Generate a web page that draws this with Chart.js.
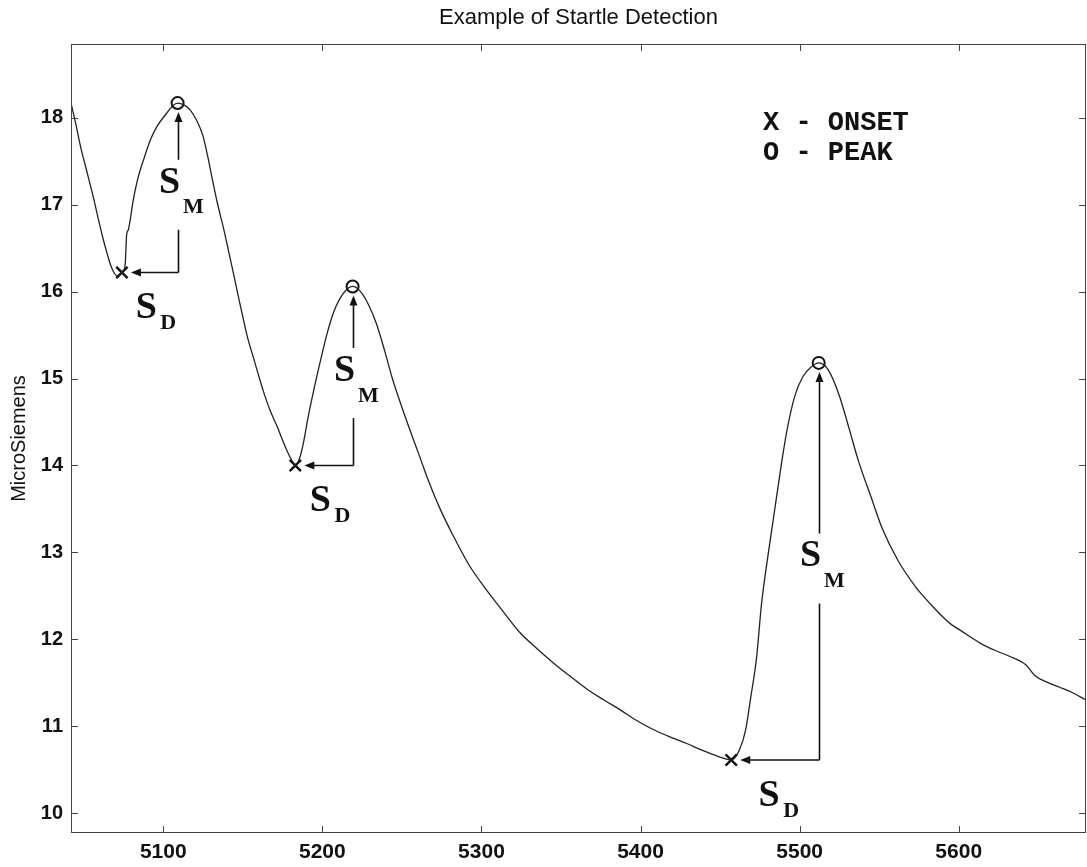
<!DOCTYPE html>
<html lang="en">
<head>
    <meta charset="utf-8">
    <style>
        body { margin: 0; background: #fff; }
        #wrap { width: 1087px; height: 867px; }
    </style>
</head>
<body>
    <div id="wrap">
        <canvas id="myChart" width="1087" height="867"></canvas>
    </div>

    <script src="https://cdn.jsdelivr.net/npm/chart.js@4.4.0/dist/chart.umd.min.js"></script>

    <script>
        // skin conductance trace
        var sampleIdx = [
            5042, 5045, 5048, 5052, 5056, 5059, 5062, 5065, 5067, 5069, 5071, 5074, 5076, 5077, 5078,
            5081, 5084, 5088, 5092, 5096, 5102, 5106, 5109, 5113, 5117, 5121, 5125, 5128, 5131, 5134,
            5138, 5141, 5144, 5147, 5150, 5153, 5157, 5160, 5163, 5167, 5172, 5175, 5178, 5181, 5183,
            5186, 5188, 5191, 5195, 5199, 5203, 5207, 5211, 5215, 5219, 5224, 5229, 5234, 5239, 5244,
            5250, 5255, 5261, 5267, 5274, 5282, 5292, 5303, 5314, 5324, 5335, 5345, 5356, 5366, 5377,
            5387, 5397, 5407, 5418, 5429, 5439, 5449, 5457, 5462, 5466, 5469, 5473, 5476, 5480, 5484,
            5488, 5492, 5497, 5502, 5507, 5512, 5518, 5525, 5531, 5537, 5545, 5552, 5562, 5573, 5579,
            5584, 5594, 5602, 5614, 5623, 5635, 5642, 5648, 5655, 5663, 5671, 5680
        ];
        var conductance = [
            18.17, 17.93, 17.67, 17.38, 17.09, 16.85, 16.62, 16.42, 16.30, 16.22, 16.18, 16.22, 16.30, 16.66, 16.71,
            17.04, 17.30, 17.54, 17.75, 17.90, 18.05, 18.14, 18.17, 18.15, 18.09, 17.97, 17.79, 17.55, 17.28, 17.02,
            16.72, 16.47, 16.22, 15.96, 15.71, 15.47, 15.22, 15.03, 14.85, 14.64, 14.43, 14.29, 14.16, 14.05, 14.00,
            14.10, 14.25, 14.55, 14.90, 15.22, 15.52, 15.76, 15.92, 16.02, 16.06, 16.00, 15.85, 15.63, 15.33, 15.00,
            14.67, 14.41, 14.11, 13.81, 13.50, 13.20, 12.86, 12.57, 12.31, 12.08, 11.89, 11.73, 11.57, 11.43, 11.30,
            11.19, 11.07, 10.97, 10.88, 10.80, 10.72, 10.65, 10.61, 10.72, 10.95, 11.30, 11.80, 12.40, 12.95, 13.45,
            13.95, 14.40, 14.80, 15.02, 15.13, 15.18, 15.10, 14.80, 14.43, 14.05, 13.63, 13.27, 12.90, 12.60, 12.47,
            12.37, 12.19, 12.09, 11.95, 11.87, 11.78, 11.71, 11.58, 11.51, 11.45, 11.39, 11.30
        ];

        // detected startles
        var onsetX = [5074, 5183, 5457];
        var onsetY = [16.22, 14.00, 10.61];
        var peakX = [5109, 5219, 5512];
        var peakY = [18.17, 16.06, 15.18];

        var xTicks = [5100, 5200, 5300, 5400, 5500, 5600];
        var yTicks = [10, 11, 12, 13, 14, 15, 16, 17, 18];
        var legendLines = ['X - ONSET', 'O - PEAK'];

        function pairs(xs, ys) {
            var out = [];
            for (var i = 0; i < xs.length; i++) {
                out.push({ x: xs[i], y: ys[i] });
            }
            return out;
        }

        // box with inward ticks on all four sides, matlab style
        var boxPlugin = {
            id: 'box',
            afterDraw: function (chart) {
                var ctx = chart.ctx, a = chart.chartArea;
                var xs = chart.scales.x, ys = chart.scales.y;
                ctx.save();
                ctx.strokeStyle = '#444';
                ctx.lineWidth = 1;
                ctx.strokeRect(a.left + 0.5, a.top + 0.5, a.right - a.left - 1, a.bottom - a.top - 1);
                ctx.beginPath();
                xTicks.forEach(function (v) {
                    var px = Math.round(xs.getPixelForValue(v)) + 0.5;
                    ctx.moveTo(px, a.bottom); ctx.lineTo(px, a.bottom - 7);
                    ctx.moveTo(px, a.top); ctx.lineTo(px, a.top + 7);
                });
                yTicks.forEach(function (v) {
                    var py = Math.round(ys.getPixelForValue(v)) + 0.5;
                    ctx.moveTo(a.left, py); ctx.lineTo(a.left + 7, py);
                    ctx.moveTo(a.right, py); ctx.lineTo(a.right - 7, py);
                });
                ctx.stroke();

                // legend text
                ctx.fillStyle = '#111';
                ctx.font = 'bold 27px "Liberation Mono", monospace';
                ctx.textBaseline = 'alphabetic';
                ctx.textAlign = 'left';
                ctx.fillText(legendLines[0], 763, 130);
                ctx.fillText(legendLines[1], 763, 160);
                ctx.restore();
            }
        };

        // S_M / S_D arrows for each startle
        var arrowPlugin = {
            id: 'arrows',
            afterDatasetsDraw: function (chart) {
                var ctx = chart.ctx;
                var xs = chart.scales.x, ys = chart.scales.y;
                ctx.save();
                ctx.strokeStyle = '#111';
                ctx.fillStyle = '#111';
                ctx.lineWidth = 1.6;
                for (var i = 0; i < onsetX.length; i++) {
                    var xo = xs.getPixelForValue(onsetX[i]);
                    var yo = ys.getPixelForValue(onsetY[i]);
                    var xp = Math.round(xs.getPixelForValue(peakX[i])) + 0.5;
                    var yp = ys.getPixelForValue(peakY[i]);
                    var tipY = yp + 9;
                    var gy = (yo + yp) / 2 + 7;

                    // vertical (magnitude)
                    ctx.beginPath();
                    ctx.moveTo(xp, yo);
                    ctx.lineTo(xp, gy + 35);
                    ctx.moveTo(xp, gy - 35);
                    ctx.lineTo(xp, tipY + 8);
                    ctx.stroke();
                    ctx.beginPath();
                    ctx.moveTo(xp, tipY);
                    ctx.lineTo(xp - 4, tipY + 10);
                    ctx.lineTo(xp + 4, tipY + 10);
                    ctx.closePath();
                    ctx.fill();

                    // horizontal (delay)
                    var tipX = xo + 9;
                    ctx.beginPath();
                    ctx.moveTo(xp, yo);
                    ctx.lineTo(tipX + 8, yo);
                    ctx.stroke();
                    ctx.beginPath();
                    ctx.moveTo(tipX, yo);
                    ctx.lineTo(tipX + 10, yo - 4);
                    ctx.lineTo(tipX + 10, yo + 4);
                    ctx.closePath();
                    ctx.fill();

                    ctx.textAlign = 'center';
                    ctx.textBaseline = 'middle';
                    ctx.font = 'bold 38px "Liberation Serif", serif';
                    ctx.fillText('S', xp - 9, gy - 12);
                    ctx.font = 'bold 22px "Liberation Serif", serif';
                    ctx.fillText('M', xp + 15, gy + 13);

                    var sx = xo + 0.43 * (xp - xo);
                    ctx.font = 'bold 38px "Liberation Serif", serif';
                    ctx.fillText('S', sx, yo + 36);
                    ctx.font = 'bold 22px "Liberation Serif", serif';
                    ctx.fillText('D', sx + 22, yo + 51);
                }
                ctx.restore();
            }
        };

        var ctx = document.getElementById('myChart').getContext('2d');
        var chart = new Chart(ctx, {
            type: 'line',
            data: {
                datasets: [
                    {
                        data: pairs(sampleIdx, conductance),
                        borderColor: '#222',
                        borderWidth: 1.3,
                        pointRadius: 0,
                        cubicInterpolationMode: 'monotone',
                        fill: false
                    },
                    {
                        data: pairs(onsetX, onsetY),
                        showLine: false,
                        pointStyle: 'crossRot',
                        pointRadius: 8,
                        borderColor: '#111',
                        pointBorderWidth: 2.4
                    },
                    {
                        data: pairs(peakX, peakY),
                        showLine: false,
                        pointStyle: 'circle',
                        pointRadius: 6,
                        borderColor: '#111',
                        backgroundColor: 'rgba(0,0,0,0)',
                        pointBorderWidth: 2
                    }
                ]
            },
            options: {
                responsive: false,
                animation: false,
                layout: { autoPadding: false, padding: { top: 0, left: 0, right: 1, bottom: 0 } },
                plugins: {
                    legend: { display: false },
                    tooltip: { enabled: false },
                    title: {
                        display: true,
                        fullSize: false,
                        text: 'Example of Startle Detection',
                        color: '#111',
                        font: { family: '"Liberation Sans", Arial, sans-serif', size: 22, weight: 'normal' },
                        padding: { top: 5, bottom: 12.6 }
                    }
                },
                scales: {
                    x: {
                        type: 'linear',
                        min: 5042,
                        max: 5680,
                        grid: { display: false, drawTicks: false },
                        border: { display: false },
                        afterBuildTicks: function (scale) {
                            scale.ticks = xTicks.map(function (v) { return { value: v }; });
                        },
                        afterFit: function (scale) {
                            scale.height = 34;
                            scale.paddingLeft = 0;
                            scale.paddingRight = 0;
                        },
                        ticks: {
                            color: '#111',
                            padding: 7,
                            maxRotation: 0,
                            font: { family: '"Liberation Sans", Arial, sans-serif', size: 21, weight: 'bold' },
                            callback: function (v) { return String(v); }
                        }
                    },
                    y: {
                        min: 9.77,
                        max: 18.85,
                        grid: { display: false, drawTicks: false },
                        border: { display: false },
                        afterBuildTicks: function (scale) {
                            scale.ticks = yTicks.map(function (v) { return { value: v }; });
                        },
                        afterFit: function (scale) {
                            scale.width = 71;
                            scale.paddingTop = 0;
                            scale.paddingBottom = 0;
                        },
                        title: {
                            display: true,
                            text: 'MicroSiemens',
                            color: '#111',
                            font: { family: '"Liberation Sans", Arial, sans-serif', size: 20 },
                            padding: { top: 7, bottom: 0 }
                        },
                        ticks: {
                            color: '#111',
                            padding: 8,
                            font: { family: '"Liberation Sans", Arial, sans-serif', size: 20, weight: 'bold' },
                            callback: function (v) { return String(v); }
                        }
                    }
                }
            },
            plugins: [arrowPlugin, boxPlugin]
        });
    </script>
</body>
</html>
